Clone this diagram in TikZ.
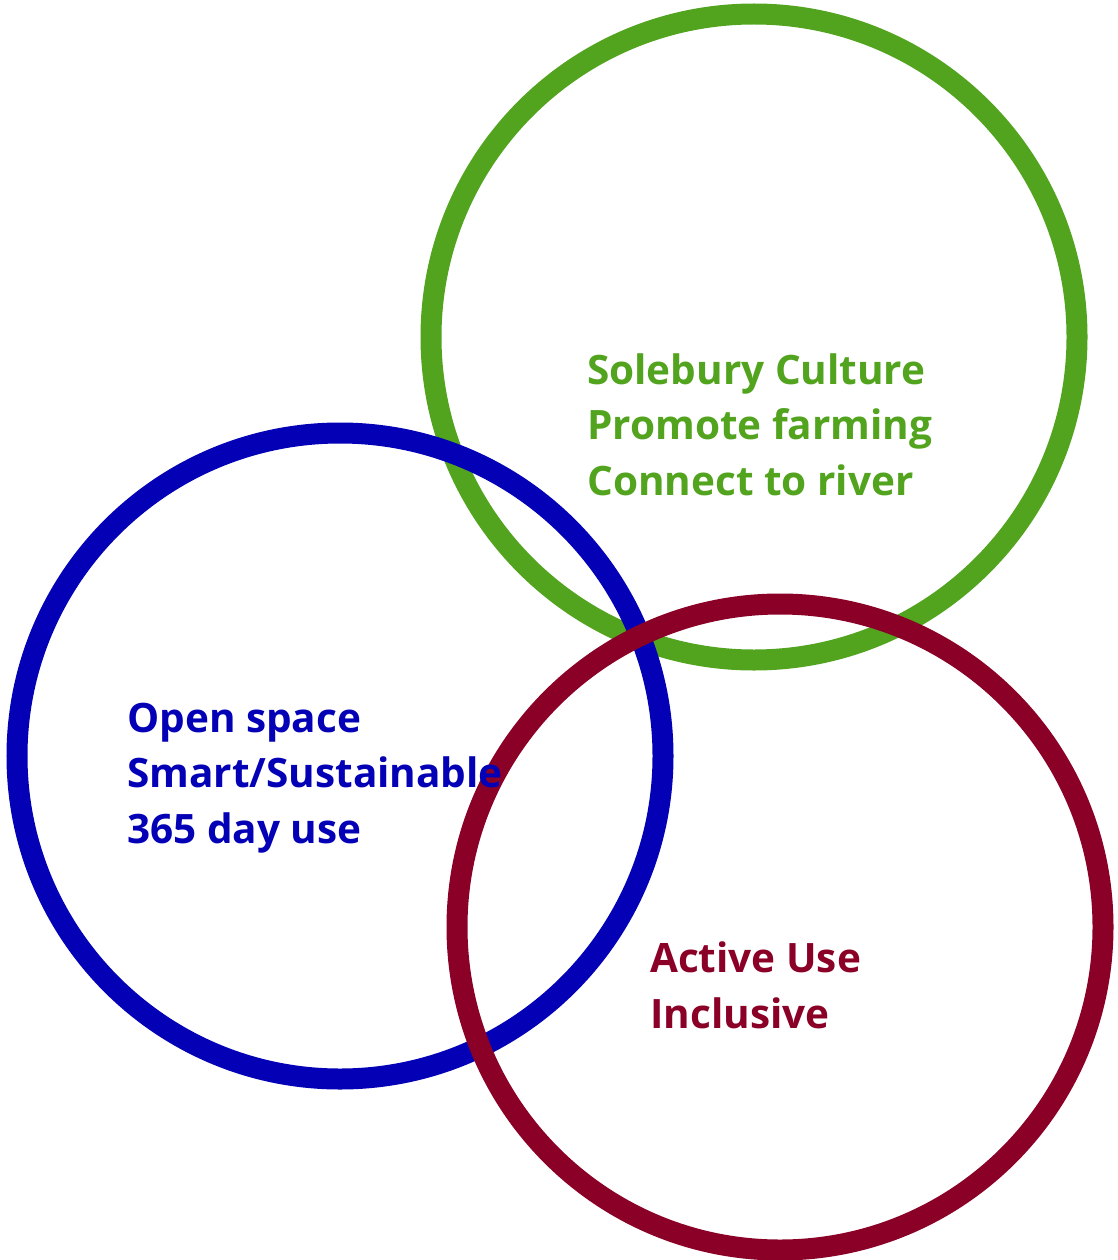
\documentclass[tikz,border=0pt]{standalone}
\usepackage{fontspec}
\setmainfont{Open Sans}
\usetikzlibrary{positioning}
\definecolor{ringgreen}{HTML}{52A31E}
\definecolor{ringblue}{HTML}{0300B5}
\definecolor{ringred}{HTML}{8A0027}
\tikzset{
  ring/.style={line width=21pt},
  ringtext/.style={anchor=base west,align=left,inner sep=0pt,
    font=\bfseries\fontsize{40.5}{55.5}\selectfont},
}
\begin{document}
\begin{tikzpicture}[x=1pt,y=-1pt]
\useasboundingbox (0,0) rectangle (1118,1260);
% rings, green at the back, red in front
\draw[ring,ringgreen] (754,337) circle[radius=323];
\draw[ring,ringblue] (340,756) circle[radius=323];
\draw[ring,ringred] (780,927) circle[radius=323];
% labels (anchored on the baseline of the last line)
\node[ringtext,text=ringgreen] (culture) at (587,495)
  {Solebury Culture\\Promote farming\\Connect to river};
\node[ringtext,text=ringblue] (openspace) at (127,843)
  {Open space\\Smart/Sustainable\\365 day use};
\node[ringtext,text=ringred] (active) at (650,1028)
  {Active Use\\Inclusive};
\end{tikzpicture}
\end{document}
